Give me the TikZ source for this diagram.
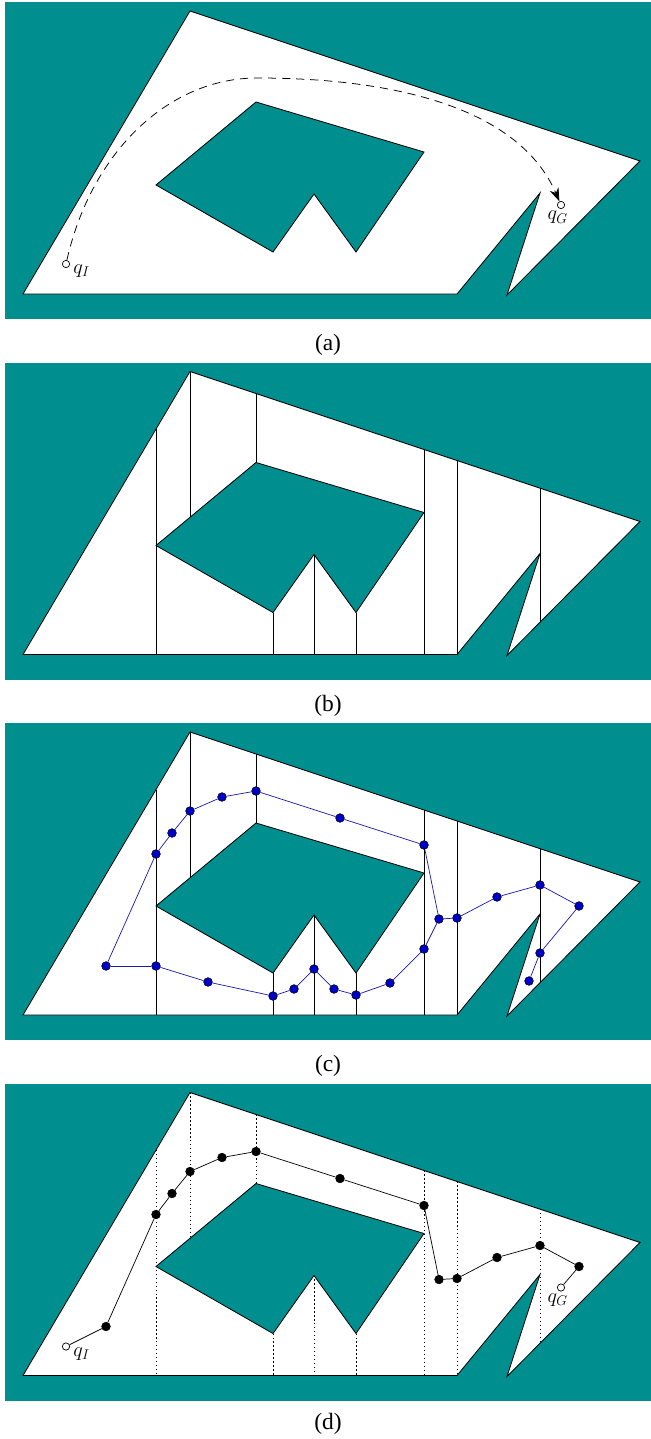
\documentclass[tikz,border=0pt]{standalone}
\usepackage{fontspec}
\setmainfont{Liberation Serif}
\usetikzlibrary{positioning,arrows.meta}
\begin{document}
\begin{tikzpicture}[x=0.3mm, y=-0.3mm]
  % Colors
  \definecolor{obstcol}{RGB}{0,142,142}
  \definecolor{nodecol}{RGB}{0,0,205}
  \definecolor{edgecol}{RGB}{25,25,175}
  %
  \tikzset{
    world/.style={fill=white, draw=black, line width=0.7pt},
    obst/.style={fill=obstcol, draw=black, line width=0.7pt},
    cell/.style={line width=0.6pt},
    dcell/.style={line width=0.6pt, dash pattern=on 1pt off 2.4pt},
    rdot/.style={circle, draw=black, line width=0.5pt, fill=nodecol, inner sep=0pt,
                 minimum size=2.6mm},
    pdot/.style={rdot, fill=black},
    qdot/.style={circle, draw=black, line width=0.6pt, fill=white, inner sep=0pt,
                 minimum size=2.2mm},
    redge/.style={draw=edgecol, line width=0.6pt},
    pedge/.style={draw=black, line width=0.6pt},
    qlab/.style={inner sep=0pt, font=\fontsize{18}{21}\selectfont},
    caplab/.style={inner sep=0pt, font=\fontsize{20}{24}\selectfont},
  }
  %
  \useasboundingbox (0,0) rectangle (651,1439);
  %
  % free space and obstacle, drawn in every panel
  \def\drawworld{%
    \fill[obstcol] (5,2) rectangle (651,319);
    \draw[world] (23,294) -- (190,11) -- (640,161) -- (507,295) -- (540,193) -- (457,294) -- cycle;
    \draw[obst] (156,185) -- (256,102) -- (424,152) -- (356,252) -- (314,194) -- (273,252) -- cycle;
  }
  % vertical cell boundaries
  \def\cells{156/68.6/294, 190/11/156.8, 256/33/102, 273/252/294, 314/194/294,
             356/252/294, 424/89/294, 457/100/294, 540/127.7/261.8}
  % roadmap vertices
  \def\verts{l1/106/245, l2/156/245, l3/208/261, l4/273/275, l5/294/268, l6/314/248,
             l7/334/268, l8/356/274, l9/390/262, l10/424/228, l11/439/198, l12/457/197,
             l13/497/176, l14/540/164, l15/579/185, l16/540/232, l17/529/260,
             u1/156/133, u2/172/112, u3/190/90, u4/222/76, u5/256/70, u6/340/97, u7/424/124}
  %
  %%% (a) %%%
  \begin{scope}
    \drawworld
    \node[qdot] (qIa) at (66,264) {};
    \node[qdot] (qGa) at (561,205) {};
    \node[qlab, below right=-0.6mm and 1.3mm of qIa] {$q_I$};
    \node[qlab, below=0.6mm of qGa, xshift=-1mm] {$q_G$};
    \draw[line width=0.65pt, dash pattern=on 7pt off 5pt, -{Stealth[length=4mm, width=2.8mm]}]
      (qIa) .. controls (92,150) and (170,78) .. (257,78)
            .. controls (400,78) and (520,110) .. (qGa);
    \node[caplab] at (328,345) {(a)};
  \end{scope}
  %
  %%% (b) %%%
  \begin{scope}[shift={(0,360.5)}]
    \drawworld
    \foreach \x/\ya/\yb in \cells {
      \draw[cell] (\x,\ya) -- (\x,\yb);
    }
    \node[caplab] at (328,345) {(b)};
  \end{scope}
  %
  %%% (c) %%%
  \begin{scope}[shift={(0,721)}]
    \drawworld
    \foreach \x/\ya/\yb in \cells {
      \draw[cell] (\x,\ya) -- (\x,\yb);
    }
    \foreach \nm/\x/\y in \verts {
      \node[rdot] (\nm) at (\x,\y) {};
    }
    \foreach \a/\b in {l1/l2, l2/l3, l3/l4, l4/l5, l5/l6, l6/l7, l7/l8, l8/l9, l9/l10,
                       l10/l11, l11/l12, l12/l13, l13/l14, l14/l15, l15/l16, l16/l17,
                       l1/u1, u1/u2, u2/u3, u3/u4, u4/u5, u5/u6, u6/u7, u7/l11} {
      \draw[redge] (\a) -- (\b);
    }
    \node[caplab] at (328,345) {(c)};
  \end{scope}
  %
  %%% (d) %%%
  \begin{scope}[shift={(0,1081.5)}]
    \drawworld
    \foreach \x/\ya/\yb in \cells {
      \draw[dcell] (\x,\ya) -- (\x,\yb);
    }
    % path through the roadmap
    \foreach \nm/\x/\y in {l1/106/245, u1/156/133, u2/172/112, u3/190/90, u4/222/76,
                           u5/256/70, u6/340/97, u7/424/124, l11/439/198, l12/457/197,
                           l13/497/176, l14/540/164, l15/579/185} {
      \node[pdot] (d\nm) at (\x,\y) {};
    }
    \node[qdot] (qId) at (66,265) {};
    \node[qdot] (qGd) at (561,206) {};
    \node[qlab, below right=-0.6mm and 1.3mm of qId] {$q_I$};
    \node[qlab, below=0.6mm of qGd, xshift=-1mm] {$q_G$};
    \foreach \a/\b in {qId/dl1, dl1/du1, du1/du2, du2/du3, du3/du4, du4/du5, du5/du6,
                       du6/du7, du7/dl11, dl11/dl12, dl12/dl13, dl13/dl14, dl14/dl15,
                       dl15/qGd} {
      \draw[pedge] (\a) -- (\b);
    }
    \node[caplab] at (328,342.5) {(d)};
  \end{scope}
\end{tikzpicture}
\end{document}
